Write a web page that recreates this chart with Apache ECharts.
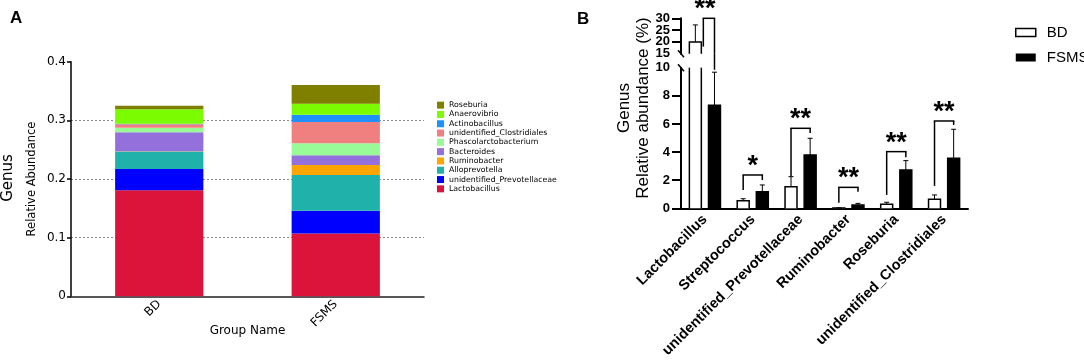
<!DOCTYPE html>
<html>
<head>
<meta charset="utf-8">
<script src="https://cdn.jsdelivr.net/npm/echarts@6/dist/echarts.min.js"></script>
<style>html,body{margin:0;padding:0;background:#fff}#chart{width:1084px;height:362px}</style>
</head>
<body>
<div id="chart"></div>
<script>
// panel A: stacked relative abundance per group
var groupsA = ['BD', 'FSMS'];
var taxaA = ['Lactobacillus', 'unidentified_Prevotellaceae', 'Alloprevotella', 'Ruminobacter', 'Bacteroides',
  'Phascolarctobacterium', 'unidentified_Clostridiales', 'Actinobacillus', 'Anaerovibrio', 'Roseburia'];
var abundBD = [0.181, 0.036, 0.030, 0.0005, 0.032, 0.008, 0.006, 0.0005, 0.025, 0.006];
var abundFSMS = [0.107, 0.039, 0.061, 0.017, 0.0165, 0.0205, 0.036, 0.0124, 0.0188, 0.032];
var taxaColors = ['#DC143C', '#0000FF', '#20B2AA', '#FFA500', '#9370DB', '#98FB98', '#F08080', '#1E90FF', '#7CFC00', '#808000'];

// panel B: mean +- sd (%) with significance brackets
var generaB = ['Lactobacillus', 'Streptococcus', 'unidentified_Prevotellaceae', 'Ruminobacter', 'Roseburia', 'unidentified_Clostridiales'];
var bdMean = [20, 0.54, 1.54, 0.02, 0.28, 0.64];
var bdSd = [7.2, 0.14, 0.71, 0.01, 0.15, 0.31];
var fsmsMean = [7.33, 1.18, 3.79, 0.23, 2.73, 3.56];
var fsmsSd = [2.35, 0.48, 1.19, 0.12, 0.66, 2.06];
var sigMarks = ['**', '*', '**', '**', '**', '**'];
var bracketTop = [30, 2.37, 5.69, 1.49, 4.03, 6.21];
var bracketLeft = [18, 1.30, 2.30, 0.40, 0.95, 1.59];
var bracketRight = [9.85, 2.01, 5.36, 1.18, 3.63, 5.93];
var lowLabels = [0, 2, 4, 6, 8, 10], lowTicks = [0, 2, 4, 6, 8];
// upper segment labels sit close together, so they are split over two stacked axes
var highLabelsA = [15, 25], highLabelsB = [20, 30], highTicks = [20, 25, 30];

var lowSeg = { lo: 0, hi: 10, ext: 11 };
var highSeg = { lo: 15, hi: 30, ext: 30 };

var fontA = 'DejaVu Sans';
var fontB = 'Liberation Sans, Arial, sans-serif';

var chart = echarts.init(document.getElementById('chart'));

function line(x1, y1, x2, y2, w) {
  return { type: 'line', shape: { x1: x1, y1: y1, x2: x2, y2: y2 }, style: { stroke: '#000', lineWidth: w || 1.5 } };
}

function barItem(seg, side, fill) {
  return function (params, api) {
    var i = api.value(0), v = api.value(1), sd = api.value(2);
    var band = api.size([1, 0])[0];
    var cx = api.coord([i, seg.lo])[0] + side * band * 0.2;
    var w = band * 0.25, xl = cx - w / 2, xr = cx + w / 2;
    var yOf = function (val) { return api.coord([i, val])[1]; };
    var kids = [];
    var top = Math.min(v, seg.hi);
    if (top > seg.lo) {
      var yb = yOf(seg.lo), yt = yOf(top);
      kids.push({ type: 'rect', shape: { x: xl, y: yt, width: w, height: yb - yt }, style: { fill: fill } });
      if (v <= seg.hi) {
        kids.push({ type: 'polyline', shape: { points: [[xl, yb], [xl, yt], [xr, yt], [xr, yb]] },
          style: { stroke: '#000', lineWidth: 1.5, fill: 'none' } });
      } else {
        kids.push(line(xl, yb, xl, yt));
        kids.push(line(xr, yb, xr, yt));
      }
    }
    var e0 = Math.max(v, seg.lo), e1 = Math.min(v + sd, seg.hi);
    if (e1 > e0) {
      kids.push(line(cx, yOf(e0), cx, yOf(e1), 1));
      if (v + sd <= seg.hi) kids.push(line(cx - 2.5, yOf(e1), cx + 2.5, yOf(e1), 1));
    }
    return { type: 'group', children: kids };
  };
}

function bracketItem(seg) {
  return function (params, api) {
    var i = api.value(0), top = api.value(1), lb = api.value(2), rb = api.value(3), bd = api.value(4);
    var band = api.size([1, 0])[0];
    var xc = api.coord([i, seg.lo])[0];
    var xl = xc - band * 0.2, xr = xc + band * 0.2;
    if (bd > lb) xl += band * 0.125 + 2;
    var yOf = function (val) { return api.coord([i, val])[1]; };
    var kids = [];
    [[xl, lb], [xr, rb]].forEach(function (leg) {
      var s = Math.max(leg[1], seg.lo), e = Math.min(top, seg.ext);
      if (e > s) kids.push(line(leg[0], yOf(s), leg[0], yOf(e)));
    });
    if (top >= seg.lo && top <= seg.hi) {
      var yt = yOf(top);
      kids.push(line(xl - 0.75, yt, xr + 0.75, yt));
      kids.push({ type: 'text', x: xc, y: yt + 5, style: {
        text: sigMarks[params.dataIndex], fill: '#000', font: 'bold 27px ' + fontB,
        align: 'center', verticalAlign: 'bottom' } });
    }
    return { type: 'group', children: kids };
  };
}

function breakItem(seg, atTop) {
  return function (params, api) {
    var cs = params.coordSys;
    var y = atTop ? cs.y : cs.y + cs.height;
    var x = cs.x;
    return line(x - 3, y - 3.5, x + 3, y + 3.5, 1.5);
  };
}

var seriesA = taxaA.map(function (name, k) {
  return {
    name: name, type: 'bar', stack: 'abund', xAxisIndex: 0, yAxisIndex: 0, barWidth: '50%',
    itemStyle: { color: taxaColors[k] },
    data: [abundBD[k], abundFSMS[k]]
  };
});

function bDataBD() { return generaB.map(function (g, i) { return [i, bdMean[i], bdSd[i]]; }); }
function bDataFSMS() { return generaB.map(function (g, i) { return [i, fsmsMean[i], fsmsSd[i]]; }); }
function bDataBr() { return generaB.map(function (g, i) { return [i, bracketTop[i], bracketLeft[i], bracketRight[i], bdMean[i]]; }); }

var seriesB = [];
[[lowSeg, 1], [highSeg, 2]].forEach(function (pair) {
  var seg = pair[0], ax = pair[1];
  var common = { type: 'custom', coordinateSystem: 'cartesian2d', xAxisIndex: ax, yAxisIndex: ax,
    encode: { x: 0, y: 1 }, silent: true, clip: false };
  seriesB.push(Object.assign({ name: 'BD', renderItem: barItem(seg, -1, '#fff'), data: bDataBD() }, common));
  seriesB.push(Object.assign({ name: 'FSMS', renderItem: barItem(seg, 1, '#000'), data: bDataFSMS() }, common));
  seriesB.push(Object.assign({ name: 'sig', renderItem: bracketItem(seg), data: bDataBr() }, common));
  seriesB.push(Object.assign({ name: 'break', renderItem: breakItem(seg, seg === lowSeg), data: [[0, seg.lo]] }, common));
});

function yAxisB(grid, min, max, labels, ticks, bare) {
  return {
    type: 'value', gridIndex: grid, min: min, max: max, interval: 5, position: 'left',
    axisLine: { show: !bare, lineStyle: { color: '#000', width: 2 } },
    axisTick: { show: !bare, length: 9, customValues: ticks, lineStyle: { color: '#000', width: 2 } },
    axisLabel: { fontFamily: fontB, fontWeight: 'bold', fontSize: 13, color: '#000', margin: 11, lineHeight: 10,
      customValues: labels, showMinLabel: true, showMaxLabel: true, hideOverlap: false },
    splitLine: { show: false }
  };
}

var option = {
  animation: false,
  backgroundColor: '#fff',
  textStyle: { fontFamily: fontA },
  graphic: [
    { type: 'text', left: 10, top: 10, style: { text: 'A', font: 'bold 17px ' + fontB, fill: '#000' } },
    { type: 'text', left: 577, top: 11, style: { text: 'B', font: 'bold 17px ' + fontB, fill: '#000' } },
    { type: 'text', x: 8, y: 178, rotation: Math.PI / 2,
      style: { text: 'Genus', font: '15px ' + fontA, fill: '#000', align: 'center', verticalAlign: 'middle' } },
    { type: 'text', x: 624, y: 108, rotation: Math.PI / 2,
      style: { text: 'Genus', font: '17px ' + fontB, fill: '#000', align: 'center', verticalAlign: 'middle' } },
    { type: 'text', x: 643, y: 108, rotation: Math.PI / 2,
      style: { text: 'Relative abundance (%)', font: '17px ' + fontB, fill: '#000', align: 'center', verticalAlign: 'middle' } }
  ],
  legend: [
    {
      orient: 'vertical', left: 432, top: 95.5, itemWidth: 7, itemHeight: 7, itemGap: 0, icon: 'rect',
      data: taxaA.slice().reverse(), selectedMode: false,
      textStyle: { fontFamily: fontA, fontSize: 7.8, color: '#000', lineHeight: 9.3 }
    },
    {
      orient: 'vertical', left: 1010, top: 20, itemWidth: 20, itemHeight: 8, itemGap: 10, selectedMode: false,
      textStyle: { fontFamily: fontB, fontSize: 15, color: '#000', padding: [0, 0, 0, 6] },
      data: [
        { name: 'BD', icon: 'rect', itemStyle: { color: '#fff', borderColor: '#000', borderWidth: 1.5 } },
        { name: 'FSMS', icon: 'rect', itemStyle: { color: '#000', borderWidth: 0 } }
      ]
    }
  ],
  grid: [
    { left: 71, top: 61.7, width: 353, height: 234.6 },
    { left: 681, top: 67.7, width: 287, height: 140.6 },
    { left: 681, top: 18.3, width: 287, height: 35.4 }
  ],
  xAxis: [
    {
      type: 'category', gridIndex: 0, data: groupsA,
      name: 'Group Name', nameLocation: 'middle', nameGap: 29, nameMoveOverlap: false,
      nameTextStyle: { fontFamily: fontA, fontSize: 12, color: '#000' },
      axisLine: { lineStyle: { color: '#222', width: 1.5 } },
      axisTick: { length: 3, lineStyle: { color: '#222' } },
      axisLabel: { rotate: 45, fontFamily: fontA, fontSize: 12, color: '#000', margin: 6 }
    },
    {
      type: 'category', gridIndex: 1, data: generaB,
      axisLine: { lineStyle: { color: '#000', width: 2 } },
      axisTick: { alignWithLabel: true, length: 7, lineStyle: { color: '#000', width: 2 } },
      axisLabel: { rotate: 45, fontFamily: fontB, fontWeight: 'bold', fontSize: 14.5, color: '#000', margin: 9, interval: 0 }
    },
    { type: 'category', gridIndex: 2, data: generaB, show: false }
  ],
  yAxis: [
    {
      type: 'value', gridIndex: 0, min: 0, max: 0.4, interval: 0.1,
      name: 'Relative Abundance', nameLocation: 'middle', nameGap: 33, nameMoveOverlap: false,
      nameTextStyle: { fontFamily: fontA, fontSize: 11.5, color: '#000' },
      axisLine: { show: true, lineStyle: { color: '#000', width: 1.5 } },
      axisTick: { show: true, length: 4, lineStyle: { color: '#000', width: 1.5 } },
      axisLabel: { fontFamily: fontA, fontSize: 12, color: '#000', margin: 5 },
      splitLine: { show: true, showMinLine: false, showMaxLine: false, lineStyle: { color: '#888', type: [2, 2], width: 1 } }
    },
    yAxisB(1, 0, 10, lowLabels, lowTicks, false),
    yAxisB(2, 15, 30, highLabelsA, highTicks, false),
    yAxisB(2, 15, 30, highLabelsB, [], true)
  ],
  series: seriesA.concat(seriesB)
};

chart.setOption(option);
</script>
</body>
</html>
